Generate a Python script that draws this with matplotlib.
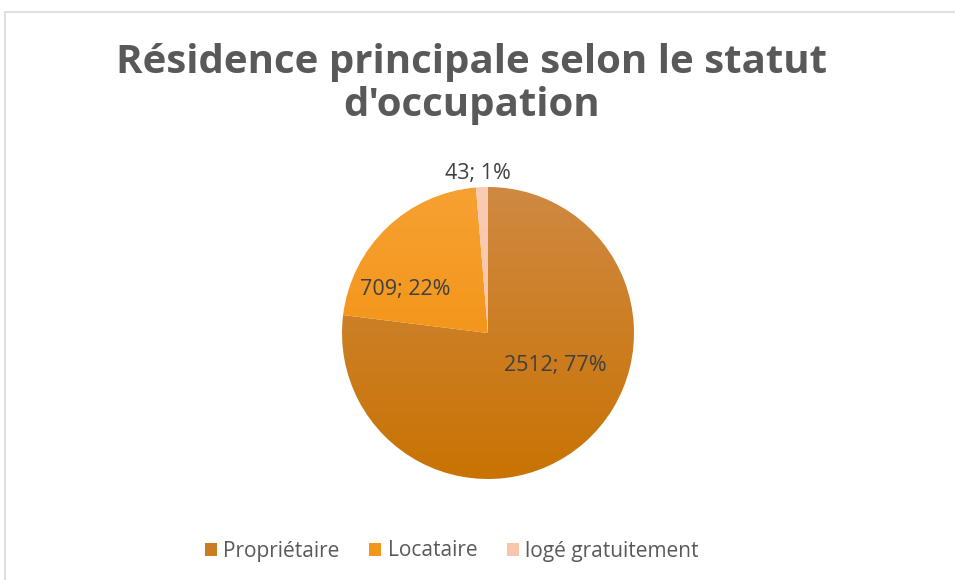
import matplotlib.pyplot as plt
import numpy as np
from matplotlib.patches import Rectangle, Patch
from matplotlib.colors import LinearSegmentedColormap

# Données
categories = ['Propriétaire', 'Locataire', 'logé gratuitement']
values = [2512, 709, 43]
percents = [77, 22, 1]
# couleurs (haut, bas) pour le dégradé
colors_top = ['#D08A45', '#F7A235', '#F9CCB4']
colors_bottom = ['#C87200', '#F08A00', '#F6C0A2']
colors_mid = ['#CB7C22', '#F3961C', '#F8C6AB']

plt.rcParams['font.family'] = ['Open Sans', 'DejaVu Sans']

fig = plt.figure(figsize=(9.55, 5.8), dpi=100)
W, H = 955, 580

# cadre du graphique
fig.patches.append(Rectangle((5 / W, -0.01), 1.0, 1 - 12 / H + 0.01,
                             transform=fig.transFigure, fill=False,
                             edgecolor='#D9D9D9', linewidth=1.2))

cx, cy, r = 488, 333, 146
half = 160
ax = fig.add_axes([(cx - half) / W, (H - cy - half) / H, 2 * half / W, 2 * half / H])

wedges, _ = ax.pie(values, startangle=90, counterclock=False, radius=r / half,
                   colors=colors_mid, wedgeprops=dict(linewidth=0))
ax.set_aspect('equal')
ax.axis('off')

# dégradé vertical dans chaque secteur
grad = np.linspace(0, 1, 256).reshape(-1, 1)
for w, ct, cb in zip(wedges, colors_top, colors_bottom):
    cmap = LinearSegmentedColormap.from_list('g', [cb, ct])
    im = ax.imshow(grad, extent=[-1, 1, -1, 1], origin='lower', cmap=cmap,
                   aspect='auto', zorder=w.get_zorder())
    im.set_clip_path(w)
    w.set_facecolor('none')
ax.set_xlim(-1, 1)
ax.set_ylim(-1, 1)

# étiquettes de données
label_pos = [(0.42, -0.20), (-0.52, 0.27), (-0.06, 1.0)]
for v, p, (x, y) in zip(values, percents, label_pos):
    ax.text(x, y, f'{v}; {p}%', ha='center', va='center', fontsize=15.5,
            color='#404040', zorder=5)

fig.text(0.494, 0.855, "Résidence principale selon le statut\nd'occupation",
         ha='center', va='center', fontsize=29, fontweight='bold',
         color='#595959', linespacing=1.15)

handles = [Patch(facecolor=c, edgecolor='none') for c in colors_mid]
fig.legend(handles, categories, loc='center', bbox_to_anchor=(0.473, 1 - 551 / H),
           ncol=3, frameon=False, fontsize=15, labelcolor='#595959',
           handlelength=0.6, handleheight=0.6, handletextpad=0.3,
           columnspacing=1.4)

fig.savefig('out.png', dpi=100)
